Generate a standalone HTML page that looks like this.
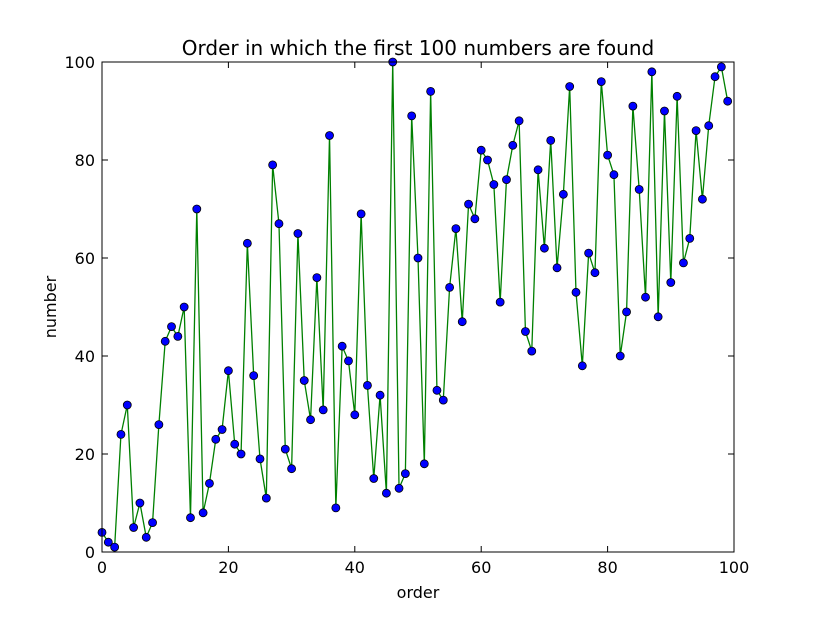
<!DOCTYPE html>
<html><head><meta charset="utf-8"><style>
body{margin:0;background:#fff;}
svg text{font-family:"DejaVu Sans","Liberation Sans",sans-serif;fill:#000;}
</style></head><body>
<svg id="chart" width="815" height="615">
<rect x="0" y="0" width="815" height="615" fill="#fff"/>
<text x="418" y="55" font-size="20" text-anchor="middle">Order in which the first 100 numbers are found</text>
<text x="418" y="598" font-size="16" text-anchor="middle">order</text>
<text x="0" y="0" font-size="16" text-anchor="middle" transform="translate(56,307) rotate(-90)">number</text>
<g id="ticks"></g>
<g id="plot"></g>
<rect x="102" y="62" width="632" height="490" fill="none" stroke="#000" stroke-width="1"/>
</svg>
<script>
const values = [4,2,1,24,30,5,10,3,6,26,43,46,44,50,7,70,8,14,23,25,37,22,20,63,36,19,11,79,67,21,17,65,35,27,56,29,85,9,42,39,28,69,34,15,32,12,100,13,16,89,60,18,94,33,31,54,66,47,71,68,82,80,75,51,76,83,88,45,41,78,62,84,58,73,95,53,38,61,57,96,81,77,40,49,91,74,52,98,48,90,55,93,59,64,86,72,87,97,99,92];
const xTicks = [0,20,40,60,80,100];
const yTicks = [0,20,40,60,80,100];
const X0=102,X1=734,Y0=552,Y1=62;
const sx=v=>X0+(v-0)/100*(X1-X0);
const sy=v=>Y0-(v-0)/100*(Y0-Y1);
const NS="http://www.w3.org/2000/svg";
const tk=document.getElementById('ticks'), pl=document.getElementById('plot');
function mk(tag,attrs,parent){const e=document.createElementNS(NS,tag);for(const k in attrs)e.setAttribute(k,attrs[k]);parent.appendChild(e);return e;}
xTicks.forEach(t=>{
  const x=sx(t);
  const l1=mk('line',{x1:x,x2:x,y1:Y0,y2:Y0-6,stroke:'#000'},tk);
  
  
  const l2=mk('line',{x1:x,x2:x,y1:Y1,y2:Y1+6,stroke:'#000'},tk);
  
  
  const tx=mk('text',{x:x,y:Y0+21,'font-size':16,'text-anchor':'middle'},tk);
  tx.textContent=t;
  
  
});
yTicks.forEach(t=>{
  const y=sy(t);
  const l1=mk('line',{x1:X0,x2:X0+6,y1:y,y2:y,stroke:'#000'},tk);
  
  
  const l2=mk('line',{x1:X1,x2:X1-6,y1:y,y2:y,stroke:'#000'},tk);
  
  
  const tx=mk('text',{x:X0-7,y:y+6,'font-size':16,'text-anchor':'end'},tk);
  tx.textContent=t;
  
  
});
const pts=values.map((v,i)=>sx(i)+','+sy(v)).join(' ');
const line=mk('polyline',{points:pts,fill:'none',stroke:'#008000','stroke-width':1.3},pl);


values.forEach((v,i)=>{
  const c=mk('circle',{cx:sx(i),cy:sy(v),r:4,fill:'#0000ff',stroke:'#000','stroke-width':0.8},pl);
  
  
});
</script>
</body></html>
